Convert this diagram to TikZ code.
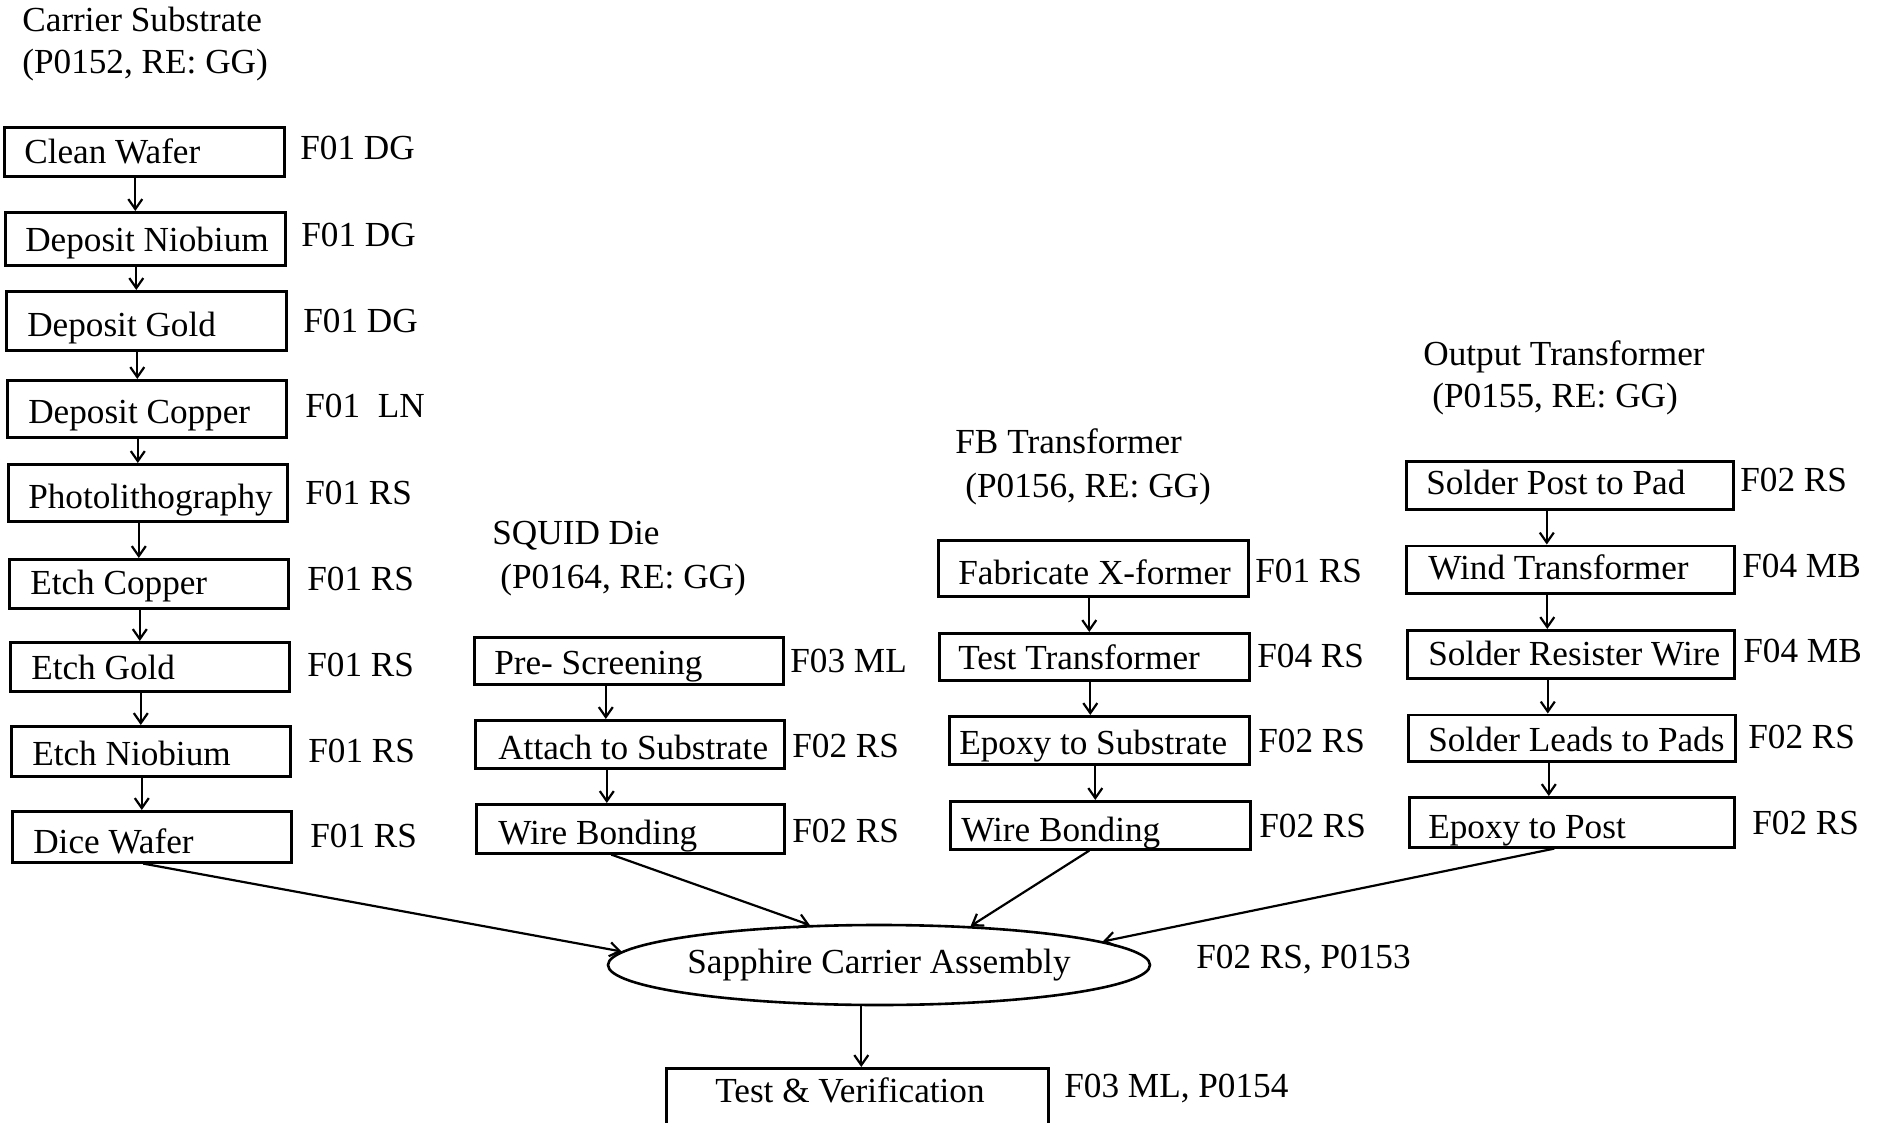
\documentclass[tikz,border=0pt]{standalone}
\usepackage{fontspec}
\setmainfont{Liberation Serif}
\usetikzlibrary{shapes.geometric,arrows.meta}

% fixed-width, left-aligned box content: width, left padding, text
\newcommand\boxlabel[3]{\makebox[#1][l]{\hspace{#2}#3}}

\begin{document}
\begin{tikzpicture}[x=0.5pt,y=-0.5pt,
  font=\fontsize{17.6pt}{21pt}\selectfont,
  stepbox/.style={draw, line width=1.3pt, rectangle, inner sep=0pt, anchor=north west},
  flow/.style={line width=1.1pt, -{Straight Barb[length=5pt,width=7pt]}},
  note/.style={anchor=base west, inner sep=0pt},
  head/.style={anchor=base west, inner sep=0pt}]

\useasboundingbox (0,0) rectangle (1881,1123);

% ---------------- Carrier Substrate ----------------
\node[head] (hcs)  at (22,32) {Carrier Substrate};
\node[head] (hcs2) at (22,74) {(P0152, RE: GG)};

\node[stepbox, text height=18pt,   text depth=6.5pt] (cw) at (3,126)  {\boxlabel{140pt}{10pt}{Clean Wafer}};
\node[stepbox, text height=19.5pt, text depth=7pt]   (dn) at (4,211)  {\boxlabel{140pt}{10pt}{Deposit Niobium}};
\node[stepbox, text height=22.5pt, text depth=7pt]   (dg) at (5,290)  {\boxlabel{140pt}{10.5pt}{Deposit Gold}};
\node[stepbox, text height=21.5pt, text depth=7pt]   (dc) at (6,379)  {\boxlabel{139.5pt}{10.5pt}{Deposit Copper}};
\node[stepbox, text height=22pt,   text depth=6.5pt] (ph) at (7,463)  {\boxlabel{139.5pt}{10pt}{Photolithography}};
\node[stepbox, text height=17.5pt, text depth=7pt]   (ec) at (8,558)  {\boxlabel{139.5pt}{10.5pt}{Etch Copper}};
\node[stepbox, text height=18.5pt, text depth=6pt]   (eg) at (9,641)  {\boxlabel{139.5pt}{10.5pt}{Etch Gold}};
\node[stepbox, text height=19.5pt, text depth=5.5pt] (en) at (10,725) {\boxlabel{139.5pt}{10.5pt}{Etch Niobium}};
\node[stepbox, text height=21pt,   text depth=4.5pt] (dw) at (11,810) {\boxlabel{139.5pt}{10.5pt}{Dice Wafer}};

\node[note] (lcw) at (300,160) {F01 DG};
\node[note] (ldn) at (301,247) {F01 DG};
\node[note] (ldg) at (303,333) {F01 DG};
\node[note] (ldc) at (305,418) {F01\ \ LN};
\node[note] (lph) at (305,504) {F01 RS};
\node[note] (lec) at (307,590) {F01 RS};
\node[note] (leg) at (307,676) {F01 RS};
\node[note] (len) at (308,762) {F01 RS};
\node[note] (ldw) at (310,847) {F01 RS};

\foreach \a/\b in {cw/dn, dn/dg, dg/dc, dc/ph, ph/ec, ec/eg, eg/en, en/dw}
  \draw[flow] ([xshift=-4.5pt]\a.south) -- ([xshift=-4.5pt]\a.south |- \b.north);

% ---------------- SQUID Die ----------------
\node[head] (hsq)  at (492,545) {SQUID Die};
\node[head] (hsq2) at (500,588) {(P0164, RE: GG)};

\node[stepbox, text height=18.5pt, text depth=5pt]   (ps)  at (473,636) {\boxlabel{154.5pt}{10pt}{Pre- Screening}};
\node[stepbox, text height=19.5pt, text depth=4.5pt] (as)  at (474,719) {\boxlabel{154.5pt}{11.5pt}{Attach to Substrate}};
\node[stepbox, text height=20pt,   text depth=4.5pt] (wb1) at (475,803) {\boxlabel{154pt}{11pt}{Wire Bonding}};

\node[note] (lps)  at (790,672) {F03 ML};
\node[note] (las)  at (792,757) {F02 RS};
\node[note] (lwb1) at (792,842) {F02 RS};

\foreach \a/\b in {ps/as, as/wb1}
  \draw[flow] ([xshift=-11.5pt]\a.south) -- ([xshift=-11.5pt]\a.south |- \b.north);

% ---------------- FB Transformer ----------------
\node[head] (hfb)  at (955,453) {FB Transformer};
\node[head] (hfb2) at (965,497) {(P0156, RE: GG)};

\node[stepbox, text height=22pt, text depth=6pt]   (fx)  at (937,539) {\boxlabel{155pt}{10pt}{Fabricate X-former}};
\node[stepbox, text height=18pt, text depth=5.5pt] (tt)  at (938,632) {\boxlabel{155pt}{9.5pt}{Test Transformer}};
\node[stepbox, text height=19pt, text depth=5pt]   (es)  at (948,715) {\boxlabel{150pt}{5pt}{Epoxy to Substrate}};
\node[stepbox, text height=20pt, text depth=4pt]   (wb2) at (949,800) {\boxlabel{150pt}{5.5pt}{Wire Bonding}};

\node[note] (lfx)  at (1255,582) {F01 RS};
\node[note] (ltt)  at (1257,667) {F04 RS};
\node[note] (les)  at (1258,752) {F02 RS};
\node[note] (lwb2) at (1259,837) {F02 RS};

\foreach \a/\b in {fx/tt, tt/es, es/wb2}
  \draw[flow] ([xshift=-2pt]\a.south) -- ([xshift=-2pt]\a.south |- \b.north);

% ---------------- Output Transformer ----------------
\node[head] (hot)  at (1423,366) {Output Transformer};
\node[head] (hot2) at (1432,408) {(P0155, RE: GG)};

\node[stepbox, text height=16.5pt,  text depth=7.5pt] (sp) at (1405,460) {\boxlabel{163.5pt}{10pt}{Solder Post to Pad}};
\node[stepbox, text height=16.75pt, text depth=7pt]   (wt) at (1405,544.5) {\boxlabel{164pt}{11pt}{Wind Transformer}};
\node[stepbox, text height=17.5pt,  text depth=6.5pt] (sr) at (1406,629) {\boxlabel{163.5pt}{10.5pt}{Solder Resister Wire}};
\node[stepbox, text height=18.25pt, text depth=5pt]   (sl) at (1407,713.5) {\boxlabel{163.5pt}{10pt}{Solder Leads to Pads}};
\node[stepbox, text height=20.5pt,  text depth=4.5pt] (ep) at (1408,796) {\boxlabel{162.5pt}{9.5pt}{Epoxy to Post}};

\node[note] (lsp) at (1740,491) {F02 RS};
\node[note] (lwt) at (1742,577) {F04 MB};
\node[note] (lsr) at (1743,662) {F04 MB};
\node[note] (lsl) at (1748,748) {F02 RS};
\node[note] (lep) at (1752,834) {F02 RS};

\foreach \a/\b in {sp/wt, wt/sr, sr/sl, sl/ep}
  \draw[flow] ([xshift=-11.5pt]\a.south) -- ([xshift=-11.5pt]\a.south |- \b.north);

% ---------------- Assembly and test ----------------
\node[ellipse, draw, line width=1.3pt, minimum width=271pt, minimum height=40pt, inner sep=0pt]
  (ell) at (879,965) {Sapphire Carrier Assembly};
\node[note] (lell) at (1196,968) {F02 RS, P0153};

\node[stepbox, text height=17pt, text depth=17pt] (tv) at (665,1067) {\boxlabel{191pt}{24.5pt}{Test \& Verification}};
\node[note] (ltv) at (1064,1097) {F03 ML, P0154};

\draw[flow] ([xshift=-4.25pt]dw.south) -- (ell.177);
\draw[flow] ([xshift=-9.5pt]wb1.south) -- (ell.150);
\draw[flow] ([xshift=-5.5pt]wb2.south) -- (ell.23);
\draw[flow] ([xshift=-8.75pt]ep.south) -- (ell.6);
\draw[flow] ([xshift=2pt]tv.north |- ell.south) -- ([xshift=2pt]tv.north);

\end{tikzpicture}
\end{document}
